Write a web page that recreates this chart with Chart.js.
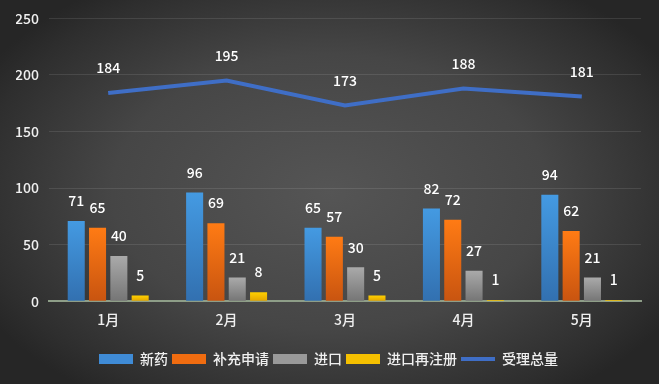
<!DOCTYPE html>
<html>
<head>
<meta charset="utf-8">
<script src="https://cdn.jsdelivr.net/npm/chart.js@4"></script>
<style>
  html, body { margin: 0; padding: 0; }
  body {
    width: 659px; height: 384px; overflow: hidden;
    background: radial-gradient(ellipse 60% 65% at 50% 50%, #555555 0%, #464646 55%, #2e2e2e 90%, #262626 100%);
  }
  #wrap { width: 659px; height: 384px; }
</style>
</head>
<body>
<div id="wrap"><canvas id="chart" width="659" height="384"></canvas></div>
<script>
const months = ['1月', '2月', '3月', '4月', '5月'];
const xinyao = [71, 96, 65, 82, 94];
const buchong = [65, 69, 57, 72, 62];
const jinkou = [40, 21, 30, 27, 21];
const zaizhuce = [5, 8, 5, 1, 1];
const zongliang = [184, 195, 173, 188, 181];

const FONT = '"Noto Sans CJK SC", "Noto Sans", sans-serif';

// each bar gets its own gradient, lighter at the top
function grad(top, bottom, flat) {
    return function (ctx) {
        const chart = ctx.chart;
        if (!chart.chartArea || ctx.type !== 'data') return flat;
        const y = chart.scales.y;
        const yTop = y.getPixelForValue(ctx.raw);
        const yBot = y.getPixelForValue(0);
        if (yBot - yTop < 1) return top;
        const g = chart.ctx.createLinearGradient(0, yTop, 0, yBot);
        g.addColorStop(0, top);
        g.addColorStop(1, bottom);
        return g;
    };
}

// value labels above bars and line points
const valueLabels = {
    id: 'valueLabels',
    afterDatasetsDraw(chart) {
        const ctx = chart.ctx;
        ctx.save();
        ctx.font = '500 14px ' + FONT;
        ctx.fillStyle = '#ffffff';
        ctx.textAlign = 'center';
        ctx.textBaseline = 'middle';
        chart.data.datasets.forEach((ds, i) => {
            const meta = chart.getDatasetMeta(i);
            meta.data.forEach((el, j) => {
                const off = ds.type === 'line' ? 25 : 20;
                ctx.fillText(String(ds.data[j]), el.x, el.y - off);
            });
        });
        ctx.restore();
    }
};

const ctx = document.getElementById('chart').getContext('2d');
new Chart(ctx, {
    data: {
        labels: months,
        datasets: [
            { type: 'bar', label: '新药', data: xinyao, order: 2,
              backgroundColor: grad('#449ae2', '#3270b0', '#3f8bd6') },
            { type: 'bar', label: '补充申请', data: buchong, order: 2,
              backgroundColor: grad('#ff7b14', '#c85410', '#f06c10') },
            { type: 'bar', label: '进口', data: jinkou, order: 2,
              backgroundColor: grad('#aaaaaa', '#757575', '#999999') },
            { type: 'bar', label: '进口再注册', data: zaizhuce, order: 2,
              backgroundColor: grad('#ffd000', '#e2a400', '#f5c000') },
            { type: 'line', label: '受理总量', data: zongliang, order: 1,
              borderColor: '#3f6ec6', backgroundColor: '#3f6ec6',
              borderWidth: 4, pointRadius: 0, pointHoverRadius: 0, tension: 0 }
        ]
    },
    options: {
        responsive: false,
        animation: false,
        layout: { padding: { left: 16, right: 18, top: 8, bottom: 8 } },
        datasets: {
            bar: { categoryPercentage: 0.72, barPercentage: 0.8 }
        },
        scales: {
            x: {
                grid: { display: false },
                border: { display: true, color: '#8e9e88', width: 2 },
                ticks: { color: '#f0f0f0', font: { size: 14, family: FONT, weight: '500' }, padding: 2 },
                afterFit(scale) { scale.height += 18; }
            },
            y: {
                min: 0, max: 250,
                ticks: { stepSize: 50, color: '#f0f0f0', font: { size: 14, family: FONT, weight: '500' }, padding: 10 },
                grid: { color: 'rgba(255,255,255,0.1)', drawTicks: false },
                border: { display: false },
                afterFit(scale) { scale.width = 33; }
            }
        },
        plugins: {
            legend: {
                position: 'bottom',
                labels: {
                    color: '#f0f0f0',
                    font: { size: 14, family: FONT, weight: '500' },
                    usePointStyle: true,
                    pointStyleWidth: 34,
                    boxHeight: 10,
                    padding: 4,
                    generateLabels(chart) {
                        const flat = ['#3f8bd6', '#f06c10', '#999999', '#f5c000', '#3f6ec6'];
                        return chart.data.datasets.map((ds, i) => ({
                            text: ds.label,
                            fillStyle: flat[i],
                            strokeStyle: flat[i],
                            lineWidth: ds.type === 'line' ? 4 : 0,
                            pointStyle: ds.type === 'line' ? 'line' : 'rect',
                            fontColor: '#f0f0f0',
                            datasetIndex: i,
                            hidden: false
                        }));
                    }
                }
            },
            tooltip: { enabled: false }
        }
    },
    plugins: [valueLabels]
});
</script>
</body>
</html>
